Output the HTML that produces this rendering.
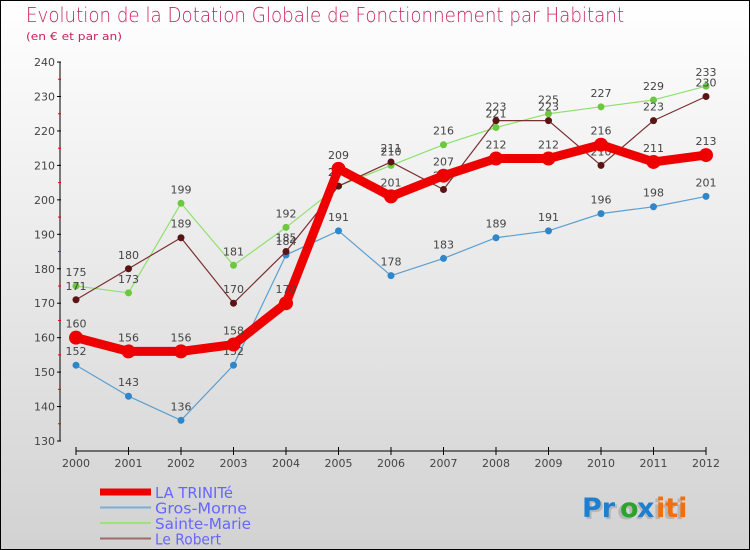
<!DOCTYPE html>
<html><head><meta charset="utf-8"><style>
body{margin:0}
svg{display:block;font-family:"DejaVu Sans","Liberation Sans",sans-serif}
</style></head><body>
<svg id="chart" width="750" height="550" viewBox="0 0 750 550">
<defs><linearGradient id="bg" x1="0" y1="0" x2="0" y2="1"><stop offset="0" stop-color="#ffffff"/><stop offset="1" stop-color="#d2d2d2"/></linearGradient></defs>
<rect x="0.5" y="0.5" width="749" height="549" fill="url(#bg)" stroke="#000"/>
<text x="26" y="22" font-size="20" fill="#c8245a" style="font-family:'DejaVu Sans',sans-serif;font-weight:200" textLength="598" lengthAdjust="spacingAndGlyphs">Evolution de la Dotation Globale de Fonctionnement par Habitant</text>
<text x="26" y="40" font-size="11" fill="#c8245a" textLength="96" lengthAdjust="spacingAndGlyphs">(en € et par an)</text>
<g id="axes"></g>
<g id="series"></g>
<g id="legend"></g>
<g font-size="27" font-weight="bold" style="font-family:'DejaVu Sans',sans-serif">
<g fill="#999" opacity="0.5" transform="translate(2,2)"><text x="582" y="517">Proxiti</text></g>
<text x="582" y="517" fill="#1e7fd0">Pr</text><text x="620" y="517" fill="#2da32d">o</text><text x="637" y="517" fill="#1e7fd0">x</text><text x="656" y="517" fill="#f07010">iti</text>
</g>
</svg>
<script>
const years=[2000,2001,2002,2003,2004,2005,2006,2007,2008,2009,2010,2011,2012];
const yTicks=[130,140,150,160,170,180,190,200,210,220,230,240];
const trinite=[160,156,156,158,170,209,201,207,212,212,216,211,213];
const grosMorne=[152,143,136,152,184,191,178,183,189,191,196,198,201];
const sainteMarie=[175,173,199,181,192,204,210,216,221,225,227,229,233];
const leRobert=[171,180,189,170,185,204,211,203,223,223,210,223,230];
const NS='http://www.w3.org/2000/svg';
const x=i=>76+i*52.5;
const y=v=>441-(v-130)*3.445;
function mk(tag,attrs,parent){const e=document.createElementNS(NS,tag);for(const k in attrs)e.setAttribute(k,attrs[k]);parent.appendChild(e);return e;}
const ax=document.getElementById('axes');
let l=mk('line',{x1:60,y1:y(240),x2:60,y2:441,stroke:'#000','stroke-width':1},ax);


l=mk('line',{x1:76,y1:451,x2:706,y2:451,stroke:'#000','stroke-width':1},ax);


yTicks.forEach((v,i)=>{
  mk('line',{x1:57,x2:61,y1:y(v),y2:y(v),stroke:'#000'},ax);
  if(i<yTicks.length-1){mk('line',{x1:58,x2:61,y1:y(v+5),y2:y(v+5),stroke:'#e00'},ax);}
  const t=mk('text',{x:55,y:y(v)+4,'font-size':11,fill:'#444','text-anchor':'end'},ax);
  t.textContent=v;
  
  
});
years.forEach((yr,i)=>{
  mk('line',{x1:x(i),x2:x(i),y1:447,y2:455,stroke:'#000'},ax);
  const t=mk('text',{x:x(i),y:467,'font-size':11,fill:'#444','text-anchor':'middle'},ax);
  t.textContent=yr;
  
  
});
const sg=document.getElementById('series');
function draw(vals,color,w,r,name,dot){
  const g=mk('g',{},sg);
  
  
  mk('polyline',{points:vals.map((v,i)=>x(i)+','+y(v)).join(' '),fill:'none',stroke:color,'stroke-width':w,'stroke-linejoin':'round'},g);
  vals.forEach((v,i)=>{
    const c=mk('circle',{cx:x(i),cy:y(v),r:r,fill:dot},g);
    
    
    const t=mk('text',{x:x(i),y:y(v)-10,'font-size':11,fill:'#444','text-anchor':'middle'},g);
    t.textContent=v;
    
    
  });
}
draw(grosMorne,'#5aa0d0',1.2,3.5,'gros-morne-series','#2f86c8');
draw(sainteMarie,'#90e070',1.2,3.5,'sainte-marie-series','#6cc83c');
draw(leRobert,'#7a3030',1.2,3.5,'le-robert-series','#5a1414');
draw(trinite,'#ee0000',9,7,'la-trinite-series','#ee0000');
const lg=document.getElementById('legend');
const items=[['LA TRINITé','#ee0000',7,78],['Gros-Morne','#7aaed6',2,92],['Sainte-Marie','#9ee07a',2,96],['Le Robert','#a06a6a',2,66]];
items.forEach((it,i)=>{
  const g=mk('g',{},lg);
  
  
  const yy=492+i*15.5;
  mk('line',{x1:100,x2:151,y1:yy,y2:yy,stroke:it[1],'stroke-width':it[2]},g);
  const t=mk('text',{x:155,y:yy+6,'font-size':15,fill:'#6666ff',textLength:it[3],lengthAdjust:'spacingAndGlyphs'},g);
  t.textContent=it[0];
});
</script>
</body></html>
